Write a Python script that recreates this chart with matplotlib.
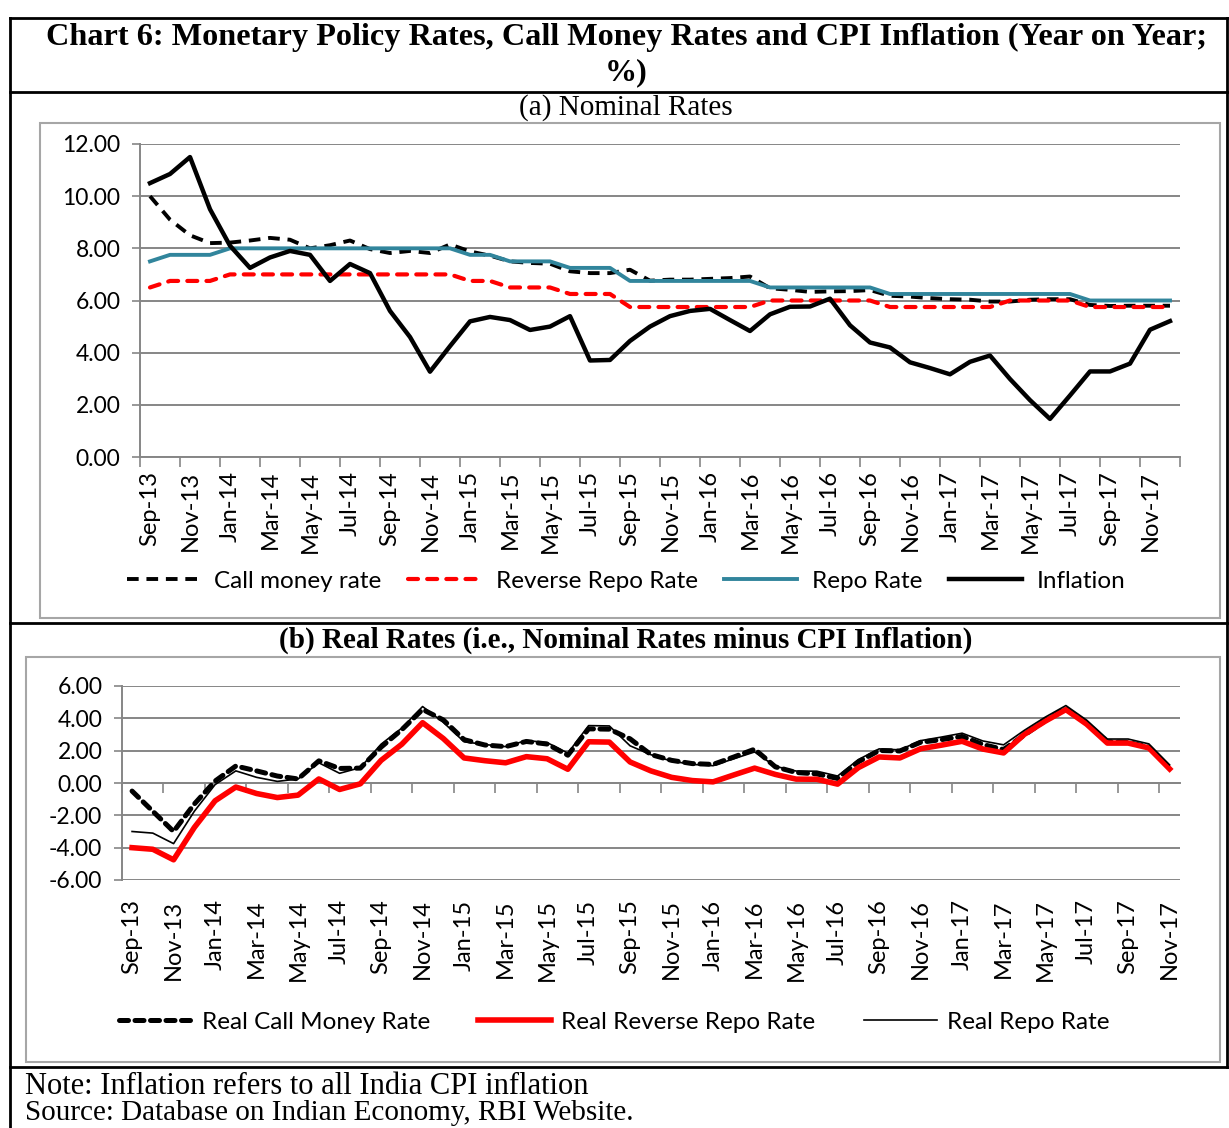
import matplotlib
matplotlib.use("Agg")
import numpy as np
import matplotlib.pyplot as plt
from matplotlib.patches import Rectangle

# categories
months_a = ["Sep-13", "Oct-13", "Nov-13", "Dec-13",
            "Jan-14", "Feb-14", "Mar-14", "Apr-14", "May-14", "Jun-14",
            "Jul-14", "Aug-14", "Sep-14", "Oct-14", "Nov-14", "Dec-14",
            "Jan-15", "Feb-15", "Mar-15", "Apr-15", "May-15", "Jun-15",
            "Jul-15", "Aug-15", "Sep-15", "Oct-15", "Nov-15", "Dec-15",
            "Jan-16", "Feb-16", "Mar-16", "Apr-16", "May-16", "Jun-16",
            "Jul-16", "Aug-16", "Sep-16", "Oct-16", "Nov-16", "Dec-16",
            "Jan-17", "Feb-17", "Mar-17", "Apr-17", "May-17", "Jun-17",
            "Jul-17", "Aug-17", "Sep-17", "Oct-17", "Nov-17", "Dec-17"]
months_b = months_a[:-1]  # real rates run to Nov-17

# (a) nominal rates, %
call_money = [10.0, 9.1, 8.5, 8.2, 8.22, 8.3, 8.4, 8.33, 8.0, 8.12,
              8.3, 7.97, 7.82, 7.9, 7.82, 8.15, 7.88, 7.72, 7.5, 7.44,
              7.41, 7.12, 7.05, 7.05, 7.18, 6.76, 6.8, 6.8, 6.83, 6.86,
              6.92, 6.47, 6.41, 6.33, 6.35, 6.36, 6.4, 6.18, 6.15, 6.09,
              6.05, 6.03, 5.96, 5.96, 6.03, 6.05, 6.05, 5.83, 5.79, 5.8,
              5.8, 5.8]
reverse_repo = [6.5, 6.75, 6.75, 6.75, 7.0, 7.0, 7.0, 7.0, 7.0, 7.0,
                7.0, 7.0, 7.0, 7.0, 7.0, 7.0, 6.75, 6.75, 6.5, 6.5,
                6.5, 6.25, 6.25, 6.25, 5.75, 5.75, 5.75, 5.75, 5.75, 5.75,
                5.75, 6.0, 6.0, 6.0, 6.0, 6.0, 6.0, 5.75, 5.75, 5.75,
                5.75, 5.75, 5.75, 6.0, 6.0, 6.0, 6.0, 5.75, 5.75, 5.75,
                5.75, 5.75]
repo = [7.5, 7.75, 7.75, 7.75, 8.0, 8.0, 8.0, 8.0, 8.0, 8.0,
        8.0, 8.0, 8.0, 8.0, 8.0, 8.0, 7.75, 7.75, 7.5, 7.5,
        7.5, 7.25, 7.25, 7.25, 6.75, 6.75, 6.75, 6.75, 6.75, 6.75,
        6.75, 6.5, 6.5, 6.5, 6.5, 6.5, 6.5, 6.25, 6.25, 6.25,
        6.25, 6.25, 6.25, 6.25, 6.25, 6.25, 6.25, 6.0, 6.0, 6.0,
        6.0, 6.0]
inflation = [10.5, 10.85, 11.5, 9.5, 8.1, 7.25, 7.65, 7.9, 7.75, 6.75,
             7.4, 7.05, 5.6, 4.6, 3.27, 4.25, 5.2, 5.37, 5.25, 4.87,
             5.0, 5.4, 3.7, 3.72, 4.45, 5.0, 5.4, 5.6, 5.68, 5.25,
             4.83, 5.47, 5.76, 5.77, 6.07, 5.05, 4.39, 4.2, 3.63, 3.41,
             3.17, 3.65, 3.89, 2.99, 2.18, 1.46, 2.36, 3.28, 3.28, 3.58,
             4.88, 5.21]

# (b) real rates, %
real_call = [-0.5, -1.75, -3.0, -1.3, 0.12, 1.05, 0.75, 0.43, 0.25, 1.37,
             0.9, 0.92, 2.22, 3.3, 4.55, 3.9, 2.68, 2.35, 2.25, 2.57,
             2.41, 1.72, 3.35, 3.33, 2.73, 1.76, 1.4, 1.2, 1.15, 1.61,
             2.09, 1.0, 0.65, 0.56, 0.28, 1.31, 2.01, 1.98, 2.52, 2.68,
             2.88, 2.38, 2.07, 2.97, 3.85, 4.59, 3.69, 2.55, 2.51, 2.22,
             0.92]
real_reverse = [-4.0, -4.1, -4.75, -2.75, -1.1, -0.25, -0.65, -0.9, -0.75, 0.25,
                -0.4, -0.05, 1.4, 2.4, 3.73, 2.75, 1.55, 1.38, 1.25, 1.63,
                1.5, 0.85, 2.55, 2.53, 1.3, 0.75, 0.35, 0.15, 0.07, 0.5,
                0.92, 0.53, 0.24, 0.23, -0.07, 0.95, 1.61, 1.55, 2.12, 2.34,
                2.58, 2.1, 1.86, 3.01, 3.82, 4.54, 3.64, 2.47, 2.47, 2.17,
                0.87]
real_repo = [-3.0, -3.1, -3.75, -1.75, -0.1, 0.75, 0.35, 0.1, 0.25, 1.25,
             0.6, 0.95, 2.4, 3.4, 4.73, 3.75, 2.55, 2.38, 2.25, 2.63,
             2.5, 1.85, 3.55, 3.53, 2.3, 1.75, 1.35, 1.15, 1.07, 1.5,
             1.92, 1.03, 0.74, 0.73, 0.43, 1.45, 2.11, 2.05, 2.62, 2.84,
             3.08, 2.6, 2.36, 3.26, 4.07, 4.79, 3.89, 2.72, 2.72, 2.42,
             1.12]

y_ticks_a = [0, 2, 4, 6, 8, 10, 12]
y_ticks_b = [-6, -4, -2, 0, 2, 4, 6]

W, H = 1229, 1128
GRID = "#868686"
TEAL = "#31859C"
SANS = "Lato"
SERIF = "Liberation Serif"

fig = plt.figure(figsize=(W / 100, H / 100), dpi=100)


def ax_px(l, t, r, b):
    return fig.add_axes([l / W, 1 - b / H, (r - l) / W, (b - t) / H])


# frame, boxes and headings in pixel coordinates
bg = fig.add_axes([0, 0, 1, 1], zorder=-5)
bg.set_xlim(0, W)
bg.set_ylim(H, 0)
bg.axis("off")
for y in [18, 92, 623, 1067]:
    bg.plot([10, W], [y, y], color="black", lw=2)
bg.plot([10, 10], [18, H], color="black", lw=2)
bg.plot([1227, 1227], [18, 1067], color="black", lw=2)
bg.add_patch(Rectangle((40, 123), 1180, 495, fill=False, ec="#A6A6A6", lw=1.5))
bg.add_patch(Rectangle((26, 657), 1194, 405, fill=False, ec="#A6A6A6", lw=1.5))

bg.text(626, 37, "Chart 6: Monetary Policy Rates, Call Money Rates and CPI Inflation (Year on Year;",
        ha="center", va="center", fontsize=23.2, fontweight="bold", family=SERIF)
bg.text(626, 73, "%)", ha="center", va="center", fontsize=23.2, fontweight="bold", family=SERIF)
bg.text(626, 108, "(a) Nominal Rates", ha="center", va="center", fontsize=21, family=SERIF)
bg.text(626, 640, "(b) Real Rates (i.e., Nominal Rates minus CPI Inflation)",
        ha="center", va="center", fontsize=21, fontweight="bold", family=SERIF)
bg.text(25, 1086, "Note: Inflation refers to all India CPI inflation",
        ha="left", va="center", fontsize=22, family=SERIF)
bg.text(25, 1113, "Source: Database on Indian Economy, RBI Website.",
        ha="left", va="center", fontsize=21, family=SERIF)


def style_axes(ax, n, yticks):
    ax.set_xlim(-0.5, n - 0.5)
    ax.set_ylim(yticks[0], yticks[-1])
    ax.set_yticks(yticks)
    ax.set_yticklabels([f"{v:.2f}" for v in yticks], family=SANS, fontsize=16.5)
    ax.yaxis.grid(True, color=GRID, lw=1.4)
    ax.set_axisbelow(True)
    for s in ["top", "right"]:
        ax.spines[s].set_visible(False)
    ax.spines["left"].set_color(GRID)
    ax.spines["left"].set_linewidth(1.4)
    ax.tick_params(axis="y", length=6, width=1.2, color=GRID, pad=8)
    ax.set_facecolor("none")


# (a) nominal rates
ax1 = ax_px(140, 144, 1180, 457)
xa = np.arange(len(months_a))
ax1.plot(xa, call_money, color="black", lw=2.8, ls=(0, (3.0, 2.0)),
         solid_joinstyle="round", label="Call money rate")
ax1.plot(xa, reverse_repo, color="red", lw=3.0, ls=(0, (2.4, 2.2)),
         dash_capstyle="round", label="Reverse Repo Rate")
ax1.plot(xa, repo, color=TEAL, lw=2.8, solid_joinstyle="round", label="Repo Rate")
ax1.plot(xa, inflation, color="black", lw=3.2, solid_joinstyle="round", label="Inflation")
style_axes(ax1, len(months_a), y_ticks_a)
ax1.spines["bottom"].set_color(GRID)
ax1.spines["bottom"].set_linewidth(1.4)
ax1.set_xticks(xa[::2])
ax1.set_xticklabels(months_a[::2], rotation=90, family=SANS, fontsize=17)
ax1.set_xticks(np.arange(-0.5, len(months_a), 2), minor=True)
ax1.tick_params(axis="x", which="major", length=0, pad=10)
ax1.tick_params(axis="x", which="minor", length=7, width=1.2, color=GRID)

fig.legend(handles=ax1.get_lines(), loc="center", bbox_to_anchor=(626 / W, 1 - 581 / H),
           ncol=4, frameon=False, prop={"family": SANS, "size": 17.5},
           handlelength=3.0, handletextpad=0.6, columnspacing=1.1)

# (b) real rates
ax2 = ax_px(121.7, 686, 1180, 880)
xb = np.arange(len(months_b))
ax2.plot(xb, real_call, color="black", lw=3.6, ls=(0, (1.8, 1.3)),
         dash_capstyle="round", label="Real Call Money Rate")
ax2.plot(xb, real_reverse, color="red", lw=4.0, solid_joinstyle="round",
         label="Real Reverse Repo Rate")
ax2.plot(xb, real_repo, color="black", lw=1.2, label="Real Repo Rate")
style_axes(ax2, len(months_b), y_ticks_b)
ax2.spines["bottom"].set_visible(False)
ax2.set_xticks(xb[::2])
ax2.set_xticklabels(months_b[::2], rotation=90, family=SANS, fontsize=17)
ax2.tick_params(axis="x", length=0, pad=14)

zero = ax2.secondary_xaxis(0.5)
zero.set_alignment("bottom")
zero.set_xticks(np.arange(-0.5, len(months_b), 2))
zero.tick_params(axis="x", length=7, width=1.2, color=GRID, labelbottom=False, labeltop=False)
zero.spines["bottom"].set_color(GRID)
zero.spines["bottom"].set_linewidth(1.4)

fig.legend(handles=ax2.get_lines(), loc="center", bbox_to_anchor=(614 / W, 1 - 1022 / H),
           ncol=3, frameon=False, prop={"family": SANS, "size": 17.5},
           handlelength=3.0, handletextpad=0.4, columnspacing=2.0)

fig.savefig("out.png", dpi=100)
